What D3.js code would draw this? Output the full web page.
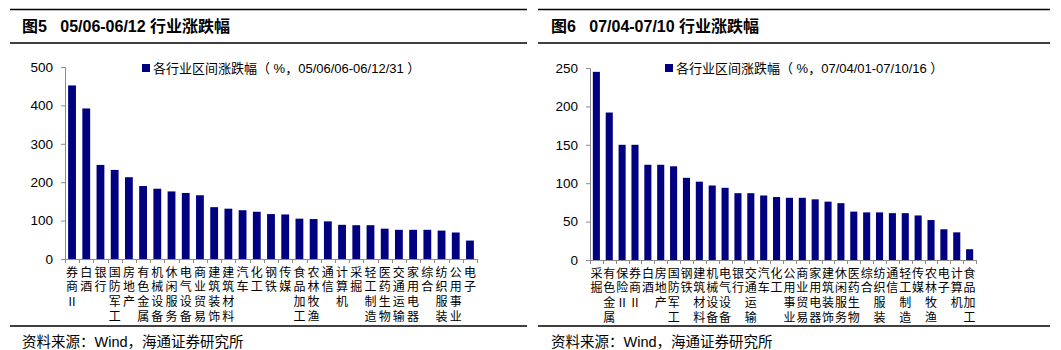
<!DOCTYPE html>
<html><head><meta charset="utf-8">
<script src="https://cdn.jsdelivr.net/npm/d3@7/dist/d3.min.js"></script>
<style>
body{margin:0;background:#fff;}
svg{display:block;}
text{white-space:pre;}
</style></head>
<body>
<svg id="c" width="1061" height="350"></svg>
<script>
// ---- Data ----
const leftTitle = "图5   05/06-06/12 行业涨跌幅";
const rightTitle = "图6   07/04-07/10 行业涨跌幅";
const leftLegend = "各行业区间涨跌幅（ %，05/06/06-06/12/31 ）";
const rightLegend = "各行业区间涨跌幅（ %，07/04/01-07/10/16 ）";
const sourceText = "资料来源：Wind，海通证券研究所";

const leftCategories = ["券商Ⅱ","白酒","银行","国防军工","房地产","有色金属","机械设备","休闲服务","电气设备","商业贸易","建筑装饰","建筑材料","汽车","化工","钢铁","传媒","食品加工","农林牧渔","通信","计算机","采掘","轻工制造","医药生物","交通运输","家用电器","综合","纺织服装","公用事业","电子"];
const leftValues = [452,392,245,232,213,190,183,176,172,166,135,131,127,123,117,116,105,104,98,89,88,88,79,76,76,76,74,69,48];
const leftTicks = [0,100,200,300,400,500];

const rightCategories = ["采掘","有色金属","保险Ⅱ","券商Ⅱ","白酒","房地产","国防军工","钢铁","建筑材料","机械设备","电气设备","银行","交通运输","汽车","化工","公用事业","商业贸易","家用电器","建筑装饰","休闲服务","医药生物","综合","纺织服装","通信","轻工制造","传媒","农林牧渔","电子","计算机","食品加工"];
const rightValues = [245,192,150,150,124,124,122,107,102,97,94,87,87,84,82,81,81,79,76,74,63,62,62,61,61,58,52,40,36,14];
const rightTicks = [0,50,100,150,200,250];

const svg = d3.select("#c");
const navy = "#000080";
const axisColor = "#8c8c8c";
const mixed = "'Liberation Sans', 'Noto Sans CJK SC', sans-serif";
const latin = "'Liberation Sans', Arial, sans-serif";

function panel(cfg){
  const g = svg.append("g");
  // title rules
  g.append("line").attr("x1",cfg.x0).attr("x2",cfg.x1).attr("y1",9.5).attr("y2",9.5).attr("stroke","#000").attr("stroke-width",1.5);
  g.append("line").attr("x1",cfg.x0).attr("x2",cfg.x1).attr("y1",43).attr("y2",43).attr("stroke","#000").attr("stroke-width",1.5);
  g.append("line").attr("x1",cfg.x0).attr("x2",cfg.x1).attr("y1",326).attr("y2",326).attr("stroke","#000").attr("stroke-width",1.5);
  g.append("text").attr("x",cfg.titleX).attr("y",32).attr("font-family",mixed).attr("font-weight","bold")
    .attr("font-size",16).attr("fill","#000").text(cfg.title);
  g.append("text").attr("x",cfg.srcX).attr("y",347).attr("font-family",mixed)
    .attr("font-size",14.5).attr("fill","#000").text(sourceText);

  const x = d3.scaleBand().domain(cfg.cats).range([cfg.left,cfg.right]).paddingInner(0.45).paddingOuter(0.22);
  const y = d3.scaleLinear().domain([0,cfg.max]).range([cfg.bottom,cfg.top]);

  // bars
  g.selectAll("rect.bar").data(cfg.vals).join("rect")
    .attr("x",(d,i)=>x(cfg.cats[i])).attr("width",x.bandwidth())
    .attr("y",d=>y(d)).attr("height",d=>cfg.bottom-y(d)).attr("fill",navy);

  // y axis
  const ya = g.append("g").attr("transform",`translate(${cfg.left},0)`)
    .call(d3.axisLeft(y).tickValues(cfg.ticks).tickSize(4).tickPadding(8));
  ya.select(".domain").attr("stroke",axisColor);
  ya.selectAll(".tick line").attr("stroke",axisColor);
  ya.selectAll(".tick text").attr("font-family",latin).attr("font-size",13.5).attr("fill","#000");

  // x axis line and category separators
  g.append("line").attr("x1",cfg.left).attr("x2",cfg.right).attr("y1",cfg.bottom+0.5).attr("y2",cfg.bottom+0.5).attr("stroke",axisColor);
  const sepX = d3.range(cfg.cats.length+1).map(i=>cfg.left + (cfg.right-cfg.left)*i/cfg.cats.length);
  g.selectAll("line.sep").data(sepX).join("line").attr("class","sep")
    .attr("x1",d=>Math.round(d)+0.5).attr("x2",d=>Math.round(d)+0.5)
    .attr("y1",cfg.bottom).attr("y2",cfg.bottom+4).attr("stroke",axisColor);

  // vertical category labels: one text per category, one tspan per character
  g.selectAll("text.lab").data(cfg.cats).join("text").attr("class","lab")
    .attr("text-anchor","middle").attr("font-family",mixed).attr("font-size",cfg.labSize).attr("fill","#000")
    .each(function(d,i){
      const cx = cfg.left + (cfg.right-cfg.left)*(i+0.5)/cfg.cats.length;
      d3.select(this).selectAll("tspan").data(Array.from(d)).join("tspan")
        .attr("x",cx).attr("y",(c,j)=>cfg.bottom+17.5+j*14.8).text(c=>c);
    });

  // legend
  g.append("rect").attr("x",cfg.legX).attr("y",64).attr("width",8).attr("height",8).attr("fill",navy);
  g.append("text").attr("x",cfg.legX+11).attr("y",73).attr("font-family",mixed).attr("font-size",13).attr("fill","#000").text(cfg.legend);
}

panel({x0:10,x1:527,titleX:22,srcX:22,title:leftTitle,legend:leftLegend,legX:142,labSize:12,
  cats:leftCategories,vals:leftValues,ticks:leftTicks,max:500,left:65,right:477,top:67,bottom:259});
panel({x0:538,x1:1050,titleX:551,srcX:551,title:rightTitle,legend:rightLegend,legX:665,labSize:12,
  cats:rightCategories,vals:rightValues,ticks:rightTicks,max:250,left:590,right:976,top:68,bottom:260});
</script>
</body></html>
